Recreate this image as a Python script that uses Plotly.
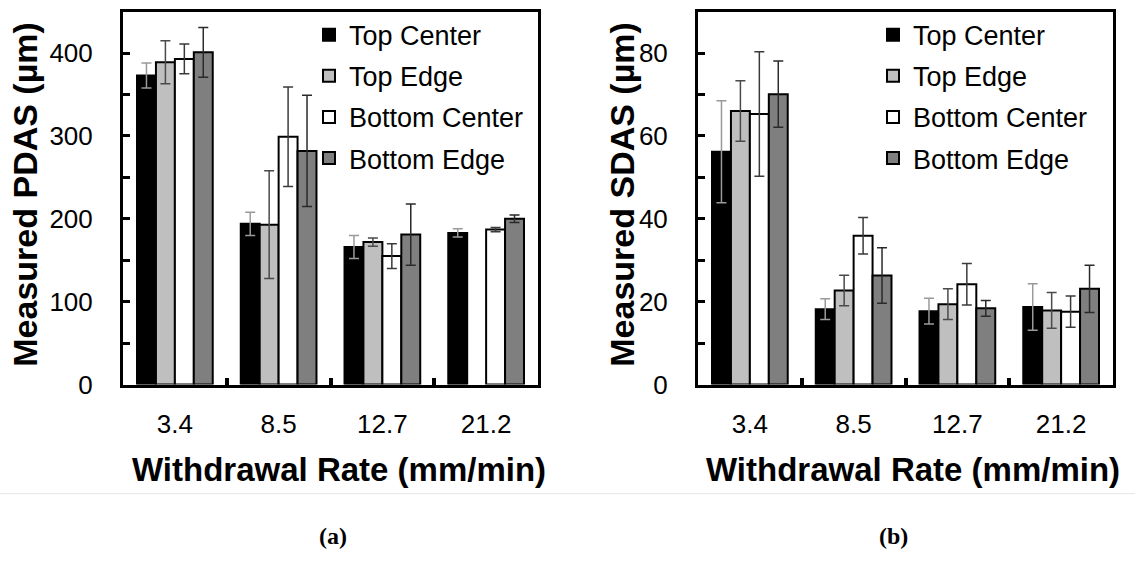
import plotly.graph_objects as go

# Withdrawal rates (mm/min) used as categories on both panels
rates = ["3.4", "8.5", "12.7", "21.2"]
locations = ["Top Center", "Top Edge", "Bottom Center", "Bottom Edge"]

# Primary dendrite arm spacing (µm) and standard deviations
pdas_top_center = [373, 194, 166, 183]
pdas_top_edge = [389, 193, 172, None]
pdas_bottom_center = [393, 299, 155, 187]
pdas_bottom_edge = [401, 282, 181, 200]
pdas_err_top_center = [15, 14, 14, 5]
pdas_err_top_edge = [26, 65, 5, 0]
pdas_err_bottom_center = [18, 60, 15, 2.5]
pdas_err_bottom_edge = [30, 67, 37, 4.5]

# Secondary dendrite arm spacing (µm) and standard deviations
sdas_top_center = [56.2, 18.2, 17.7, 18.7]
sdas_top_edge = [66.0, 22.7, 19.4, 17.9]
sdas_bottom_center = [65.3, 35.9, 24.2, 17.6]
sdas_bottom_edge = [70.1, 26.3, 18.4, 23.1]
sdas_err_top_center = [12.3, 2.5, 3.1, 5.6]
sdas_err_top_edge = [7.3, 3.7, 3.7, 4.3]
sdas_err_bottom_center = [15.0, 4.4, 5.0, 3.8]
sdas_err_bottom_edge = [8.0, 6.7, 1.9, 5.7]

fill_colors = ["#000000", "#bfbfbf", "#ffffff", "#7f7f7f"]
err_colors = ["#9a9a9a", "#4a4a4a", "#3a3a3a", "#2a2a2a"]

W, H = 1135, 567
FONT = "Arial, Liberation Sans, sans-serif"


def px_x(p):
    return p / W


def px_y(p):
    return 1 - p / H


fig = go.Figure()

pdas = [
    (pdas_top_center, pdas_err_top_center),
    (pdas_top_edge, pdas_err_top_edge),
    (pdas_bottom_center, pdas_err_bottom_center),
    (pdas_bottom_edge, pdas_err_bottom_edge),
]
sdas = [
    (sdas_top_center, sdas_err_top_center),
    (sdas_top_edge, sdas_err_top_edge),
    (sdas_bottom_center, sdas_err_bottom_center),
    (sdas_bottom_edge, sdas_err_bottom_edge),
]

for i, (vals, errs) in enumerate(pdas):
    fig.add_trace(go.Bar(
        x=rates, y=vals, name=locations[i],
        marker=dict(color=fill_colors[i], line=dict(color="black", width=2)),
        error_y=dict(type="data", array=errs, color=err_colors[i],
                     thickness=1.5, width=5),
        xaxis="x", yaxis="y", legend="legend", legendgroup=f"a{i}",
    ))

for i, (vals, errs) in enumerate(sdas):
    fig.add_trace(go.Bar(
        x=rates, y=vals, name=locations[i],
        marker=dict(color=fill_colors[i], line=dict(color="black", width=2)),
        error_y=dict(type="data", array=errs, color=err_colors[i],
                     thickness=1.5, width=5),
        xaxis="x2", yaxis="y2", legend="legend2", legendgroup=f"b{i}",
    ))

xaxis_common = dict(
    type="category", showline=True, linecolor="black", linewidth=3,
    mirror=True, ticks="inside", tickson="boundaries", ticklen=7,
    tickwidth=4, tickcolor="black", showgrid=False, zeroline=False,
    tickfont=dict(family=FONT, size=26, color="black"),
    ticklabelstandoff=14, fixedrange=True,
)
yaxis_common = dict(
    showline=True, linecolor="black", linewidth=3, mirror=True,
    ticks="inside", ticklen=7, tickwidth=3, tickcolor="black",
    showgrid=False, zeroline=False,
    tickfont=dict(family=FONT, size=26, color="black"),
    ticklabelstandoff=22,
)

y_dom = [px_y(395), px_y(12)]

legend_common = dict(
    bgcolor="rgba(0,0,0,0)", borderwidth=0,
    font=dict(family=FONT, size=27, color="black"),
    traceorder="grouped", tracegroupgap=3,
    xanchor="left", yanchor="top",
)

fig.update_layout(
    width=W, height=H,
    margin=dict(l=0, r=0, t=0, b=0),
    paper_bgcolor="white", plot_bgcolor="white",
    barmode="group", bargap=0.27, bargroupgap=0,
    xaxis=dict(domain=[px_x(123), px_x(538)], anchor="y", **xaxis_common),
    xaxis2=dict(domain=[px_x(698), px_x(1113)], anchor="y2", **xaxis_common),
    yaxis=dict(domain=y_dom, anchor="x", range=[0, 450], tickvals=[0, 100, 200, 300, 400],
               minor=dict(dtick=50, ticks="inside", ticklen=7, tickwidth=3, tickcolor="black"),
               **yaxis_common),
    yaxis2=dict(domain=y_dom, anchor="x2", range=[0, 90], tickvals=[0, 20, 40, 60, 80],
                minor=dict(dtick=10, ticks="inside", ticklen=7, tickwidth=3, tickcolor="black"),
                **yaxis_common),
    legend=dict(x=px_x(309), y=px_y(11), **legend_common),
    legend2=dict(x=px_x(873), y=px_y(11), **legend_common),
    showlegend=True,
)

title_font = dict(family=FONT, size=33, color="black", weight="bold")
y_title_font = dict(family=FONT, size=34, color="black", weight="bold")
annotations = [
    dict(text="Measured PDAS (µm)", x=px_x(25), y=px_y(200), textangle=-90, font=y_title_font),
    dict(text="Measured SDAS (µm)", x=px_x(622), y=px_y(200), textangle=-90, font=y_title_font),
    dict(text="Withdrawal Rate (mm/min)", x=px_x(339), y=px_y(482), font=title_font),
    dict(text="Withdrawal Rate (mm/min)", x=px_x(913), y=px_y(482), font=title_font),
]
for a in annotations:
    fig.add_annotation(xref="paper", yref="paper", showarrow=False,
                       xanchor="center", yanchor="middle", **a)

caption_font = dict(family="Times New Roman, Liberation Serif, serif", size=24,
                    color="black", weight="bold")
for label, cx in [("(a)", 333), ("(b)", 893)]:
    fig.add_annotation(text=label, xref="paper", yref="paper", showarrow=False,
                       x=px_x(cx), y=px_y(551), xanchor="center", yanchor="middle",
                       font=caption_font)

# thin rule between the panels and the captions
fig.add_shape(type="line", xref="paper", yref="paper", x0=0, x1=1,
              y0=px_y(507), y1=px_y(507), line=dict(color="#e6e6e6", width=1))

fig.write_html("out.html")
